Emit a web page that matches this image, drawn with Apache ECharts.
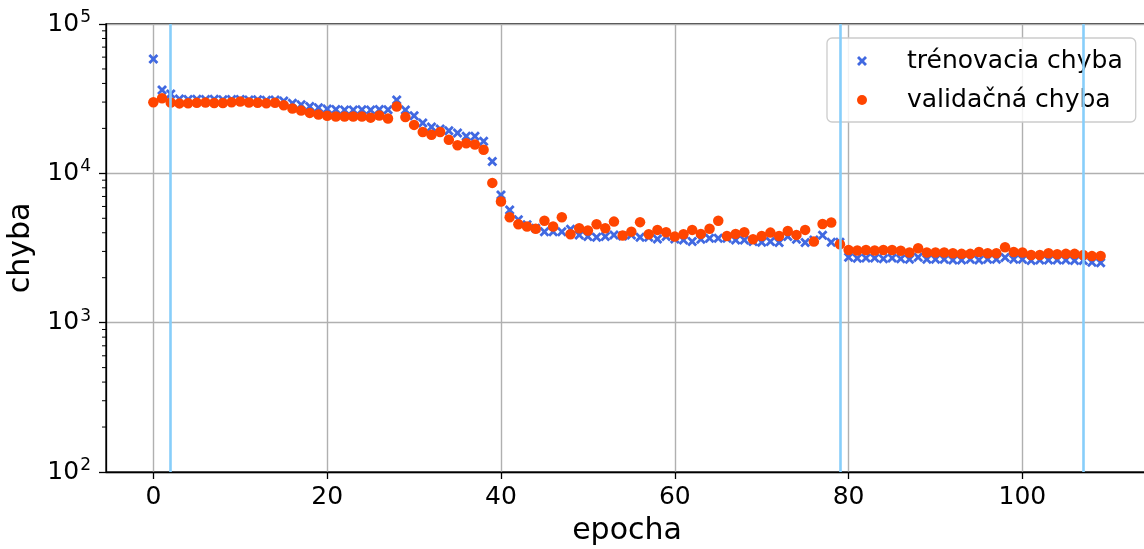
<!DOCTYPE html>
<html>
<head>
<meta charset="utf-8">
<script src="https://cdn.jsdelivr.net/npm/echarts@6/dist/echarts.min.js"></script>
<style>
html,body{margin:0;padding:0;background:#fff;}
#chart{width:1144px;height:549px;}
</style>
</head>
<body>
<div id="chart"></div>
<script>
// ---- data ----
var epochs = [];
for (var i = 0; i < 110; i++) epochs.push(i);

var trainLoss = [
  58300, 36100, 34000, 31500, 31200, 31300, 31200, 31300, 31100, 31200,
  31200, 31000, 31100, 30900, 31000, 30500, 29500, 28800, 28000, 27500,
  27000, 26800, 26600, 26600, 26700, 26600, 26800, 26700, 31000, 26600,
  24300, 21700, 20400, 19800, 19300, 18600, 17700, 17700, 16400, 12000,
  7170, 5690, 4880, 4520, 4290, 4070, 4070, 4070, 4220, 3870,
  3770, 3730, 3770, 3870, 3800, 3870, 3730, 3730, 3640, 3770,
  3640, 3580, 3490, 3620, 3680, 3680, 3680, 3580, 3580, 3490,
  3460, 3490, 3440, 3770, 3620, 3440, 3580, 3850, 3460, 3460,
  2740, 2700, 2710, 2710, 2680, 2710, 2680, 2660, 2740, 2660,
  2660, 2660, 2630, 2630, 2660, 2630, 2660, 2660, 2730, 2660,
  2660, 2610, 2630, 2630, 2630, 2630, 2610, 2610, 2540, 2520
];

var valLoss = [
  29900, 31800, 29800, 29400, 29500, 29700, 29800, 29600, 29600, 29900,
  30300, 29800, 29700, 29500, 29700, 28600, 27200, 26300, 25400, 24800,
  24300, 24000, 24000, 24000, 24000, 23600, 24400, 23300, 28000, 23800,
  21100, 18900, 18100, 18900, 16800, 15400, 15900, 15600, 14400, 8630,
  6470, 5080, 4560, 4400, 4250, 4820, 4400, 5080, 3910, 4290,
  4140, 4560, 4290, 4750, 3830, 4070, 4710, 3910, 4180, 4030,
  3770, 3910, 4180, 3930, 4250, 4820, 3810, 3930, 4030, 3620,
  3810, 4010, 3810, 4110, 3870, 4180, 3490, 4580, 4680, 3350,
  3070, 3040, 3070, 3040, 3070, 3070, 3030, 2950, 3150, 2950,
  2950, 2950, 2920, 2890, 2890, 2970, 2920, 2920, 3200, 2970,
  2950, 2840, 2840, 2920, 2870, 2890, 2890, 2840, 2790, 2800
];

var vLines = [2, 79, 107];
var xTicks = [0, 20, 40, 60, 80, 100];
var yMinorTicks = [200, 300, 400, 500, 600, 700, 800, 900,
                   2000, 3000, 4000, 5000, 6000, 7000, 8000, 9000,
                   20000, 30000, 40000, 50000, 60000, 70000, 80000, 90000];
var X_MIN = -5.45, X_MAX = 114.45;
var seriesNames = ['trénovacia chyba', 'validačná chyba'];

// ---- chart ----
var FONT = 'DejaVu Sans';
var xSymbol = 'path://M0,2 L2,0 L5,3 L8,0 L10,2 L7,5 L10,8 L8,10 L5,7 L2,10 L0,8 L3,5 Z';

function pairs(arr) {
  return arr.map(function (v, i) { return [epochs[i], v]; });
}

var chart = echarts.init(document.getElementById('chart'), null, {renderer: 'canvas'});
chart.setOption({
  backgroundColor: '#ffffff',
  animation: false,
  textStyle: {fontFamily: FONT},
  grid: {
    left: 106, top: 24, width: 1042, height: 448,
    outerBoundsMode: 'none', containLabel: false,
    show: true, borderColor: '#000', borderWidth: 1.3, backgroundColor: 'transparent'
  },
  legend: {
    data: seriesNames,
    orient: 'vertical',
    left: 827, top: 38,
    padding: [9, 13, 8, 30],
    itemGap: 11,
    itemWidth: 10, itemHeight: 10,
    backgroundColor: 'rgba(255,255,255,0.85)',
    borderColor: '#cccccc', borderWidth: 1.3, borderRadius: 5,
    textStyle: {fontFamily: FONT, fontSize: 25, color: '#000', lineHeight: 28, padding: [0, 0, 0, 35]}
  },
  xAxis: {
    type: 'value', min: X_MIN, max: X_MAX,
    name: 'epocha', nameLocation: 'middle', nameGap: 44,
    nameTextStyle: {fontFamily: FONT, fontSize: 30, color: '#000'},
    axisLine: {show: true, onZero: false, lineStyle: {color: '#000', width: 1.3}},
    axisTick: {show: true, inside: false, length: 7, customValues: xTicks, lineStyle: {color: '#000', width: 1.3}},
    axisLabel: {show: true, margin: 13, customValues: xTicks, fontFamily: FONT, fontSize: 25, color: '#000'},
    splitLine: {show: true, lineStyle: {color: '#b0b0b0', width: 1.4}}
  },
  yAxis: {
    type: 'log', logBase: 10, min: 100, max: 100000,
    name: 'chyba', nameLocation: 'middle', nameGap: 61,
    nameTextStyle: {fontFamily: FONT, fontSize: 30, color: '#000'},
    axisLine: {show: true, onZero: false, lineStyle: {color: '#000', width: 1.3}},
    axisTick: {show: true, inside: false, length: 7, lineStyle: {color: '#000', width: 1.3}},
    axisLabel: {
      show: true, margin: 15, color: '#000',
      formatter: function (v) {
        var e = Math.round(Math.log(v) / Math.LN10);
        return '{b|10}{s|' + e + '}';
      },
      rich: {
        b: {fontFamily: FONT, fontSize: 25, color: '#000'},
        s: {fontFamily: FONT, fontSize: 17, color: '#000', padding: [0, 0, 13, 1]}
      }
    },
    splitLine: {show: true, lineStyle: {color: '#b0b0b0', width: 1.4}}
  },
  series: [
    {
      name: seriesNames[0], type: 'scatter',
      data: pairs(trainLoss),
      symbol: xSymbol, symbolSize: 10,
      itemStyle: {color: '#4169e1', opacity: 1},
      z: 3,
      markLine: {
        silent: true, symbol: 'none', animation: false,
        label: {show: false},
        lineStyle: {color: '#87cefa', width: 2.6, type: 'solid', opacity: 1},
        emphasis: {disabled: true},
        data: vLines.map(function (v) { return {xAxis: v}; })
      }
    },
    {
      name: seriesNames[1], type: 'scatter',
      data: pairs(valLoss),
      symbol: 'circle', symbolSize: 10.5,
      itemStyle: {color: '#ff4500', opacity: 1},
      z: 4
    },
    {
      name: 'minorTicks', type: 'custom', silent: true, clip: false,
      data: yMinorTicks.map(function (v) { return [X_MIN, v]; }),
      renderItem: function (params, api) {
        var p = api.coord([api.value(0), api.value(1)]);
        return {
          type: 'line',
          shape: {x1: p[0] - 4, y1: p[1], x2: p[0], y2: p[1]},
          style: {stroke: '#000', lineWidth: 1}
        };
      },
      z: 6
    }
  ]
});
</script>
</body>
</html>
